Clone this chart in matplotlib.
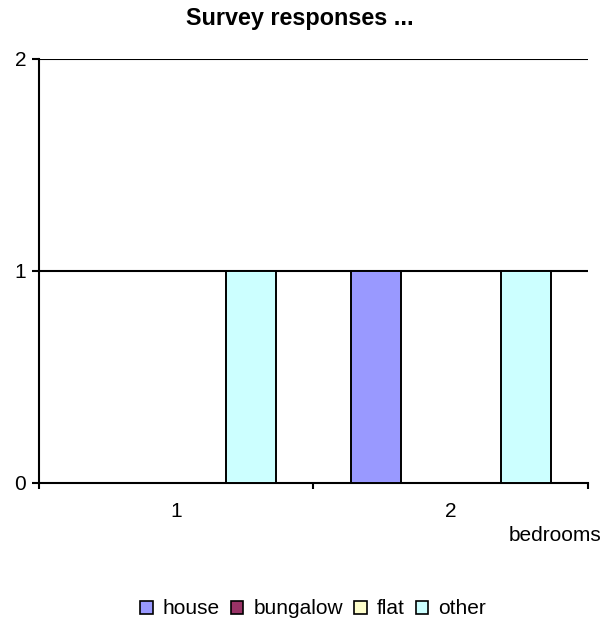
import matplotlib
matplotlib.use("Agg")
import matplotlib.pyplot as plt
import numpy as np
from matplotlib.patches import Patch

plt.rcParams['font.family'] = ['Liberation Sans', 'DejaVu Sans']

categories = ['1', '2']
series = ['house', 'bungalow', 'flat', 'other']
values = {
    'house':    [0, 1],
    'bungalow': [0, 0],
    'flat':     [0, 0],
    'other':    [1, 1],
}
colors = {'house': '#9999FF', 'bungalow': '#993366', 'flat': '#FFFFCC', 'other': '#CCFFFF'}
yticks = [0, 1, 2]
title = 'Survey responses ...'
xlabel = 'bedrooms'

fig = plt.figure(figsize=(6.03, 6.25), dpi=100)
ax = fig.add_axes([38.5/603, 1-483/625, (588-38.5)/603, (483-59)/625])

x = np.arange(len(categories))
w = 0.182
offsets = (np.arange(len(series)) - 1.5) * w
for s, off in zip(series, offsets):
    vals = np.array(values[s])
    lws = [1.4 if v > 0 else 0 for v in vals]
    ax.bar(x + off, vals, width=w, color=colors[s], edgecolor='black', linewidth=lws, zorder=3)

ax.set_xlim(-0.5, len(categories) - 0.5)
ax.set_ylim(0, 2)
ax.set_yticks(yticks)
ax.set_yticklabels([str(t) for t in yticks], fontsize=15)
for yv in yticks[1:]:
    ax.axhline(yv, color='black', linewidth=1.5, zorder=2)

ax.set_xticks(x)
ax.set_xticklabels(categories, fontsize=15)
ax.tick_params(axis='x', which='major', length=0, pad=14)
ax.set_xticks(np.arange(-0.5, len(categories)), minor=True)
ax.tick_params(axis='x', which='minor', length=4.5, width=1.5, direction='out')
ax.tick_params(axis='y', length=5, width=1.5, direction='out', pad=4)

for sp in ['top', 'right']:
    ax.spines[sp].set_visible(False)
for sp in ['left', 'bottom']:
    ax.spines[sp].set_linewidth(1.5)

fig.text(300/603, 1-25/625, title, ha='center', va='baseline', fontsize=16.8, fontweight='bold')
fig.text(601/603, 1-541/625, xlabel, ha='right', va='baseline', fontsize=15)

handles = [Patch(facecolor=colors[s], edgecolor='black', linewidth=1.2) for s in series]
fig.legend(handles, series, loc='center', bbox_to_anchor=(313/603, 1-609/625), ncol=4,
           frameon=False, fontsize=15, handlelength=0.6, handleheight=0.6,
           handletextpad=0.48, columnspacing=0.53, borderpad=0, borderaxespad=0)

fig.savefig('out.png', dpi=100)
